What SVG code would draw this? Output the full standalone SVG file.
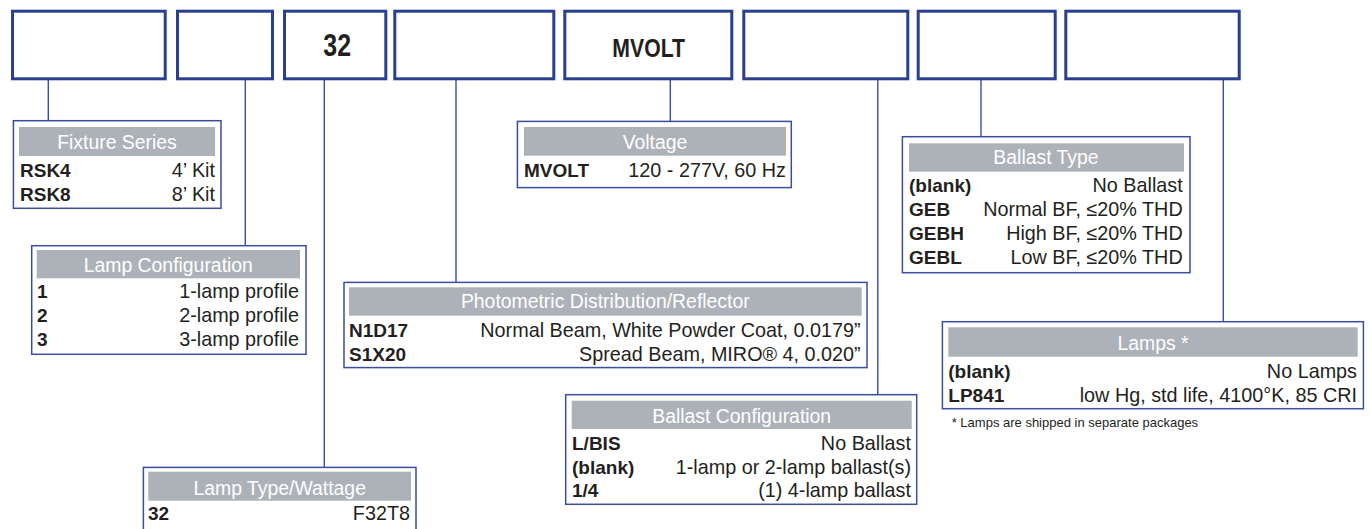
<svg xmlns="http://www.w3.org/2000/svg" width="1371" height="529" viewBox="0 0 1371 529">
<style>
.top{fill:#fff;stroke:#2a3f8f;stroke-width:3}
.box{fill:#fff;stroke:#3a4d9e;stroke-width:1.5}
.band{fill:#adb2b8}
.hd{font-family:"Liberation Sans",Arial,sans-serif;font-size:19.4px;fill:#fff;text-anchor:middle}
.b{font-family:"Liberation Sans",Arial,sans-serif;font-size:19px;font-weight:bold;fill:#231f20}
.r{font-family:"Liberation Sans",Arial,sans-serif;font-size:19.8px;fill:#231f20;text-anchor:end}
.big{font-family:"Liberation Sans",Arial,sans-serif;font-weight:bold;fill:#231f20;text-anchor:middle}
.conn line{stroke:#3a4d9e;stroke-width:1.4}
.note{font-family:"Liberation Sans",Arial,sans-serif;font-size:13px;fill:#231f20}
</style>
<rect width="1371" height="529" fill="#fff"/>
<g class="conn" id="connectors">
<line x1="48.3" y1="80" x2="48.3" y2="120.7"/>
<line x1="245.3" y1="80" x2="245.3" y2="245.7"/>
<line x1="324.3" y1="80" x2="324.3" y2="467.4"/>
<line x1="456" y1="80" x2="456" y2="282.4"/>
<line x1="670.3" y1="80" x2="670.3" y2="121.4"/>
<line x1="877.8" y1="80" x2="877.8" y2="394.7"/>
<line x1="981" y1="80" x2="981" y2="136.7"/>
<line x1="1223.3" y1="80" x2="1223.3" y2="321.7"/>
</g>
<g id="code1"><rect class="top" x="12.5" y="11.2" width="152.7" height="67.6"/></g>
<g id="code2"><rect class="top" x="177.5" y="11.2" width="95" height="67.6"/></g>
<g id="code3"><rect class="top" x="284.5" y="11.2" width="101.3" height="67.6"/>
<text class="big" x="337.2" y="56" font-size="31" textLength="27.7" lengthAdjust="spacingAndGlyphs">32</text></g>
<g id="code4"><rect class="top" x="394.8" y="11.2" width="159" height="67.6"/></g>
<g id="code5"><rect class="top" x="564.8" y="11.2" width="167" height="67.6"/>
<text class="big" x="648.7" y="56.7" font-size="25.5" textLength="72.7" lengthAdjust="spacingAndGlyphs">MVOLT</text></g>
<g id="code6"><rect class="top" x="743.8" y="11.2" width="164" height="67.6"/></g>
<g id="code7"><rect class="top" x="918.2" y="11.2" width="137" height="67.6"/></g>
<g id="code8"><rect class="top" x="1065.8" y="11.2" width="173.4" height="67.6"/></g>

<g id="fixture-series">
<rect class="box" x="13.4" y="120.7" width="207.6" height="87.6"/>
<rect class="band" x="19" y="127" width="196" height="29"/>
<text class="hd" x="117" y="149">Fixture Series</text>
<text class="b" x="20" y="176.7">RSK4</text><text class="r" x="215" y="176.7">4’ Kit</text>
<text class="b" x="20" y="200.7">RSK8</text><text class="r" x="215" y="200.7">8’ Kit</text>
</g>

<g id="lamp-configuration">
<rect class="box" x="31.7" y="245.7" width="274.3" height="108.6"/>
<rect class="band" x="36.7" y="250" width="263.3" height="28.3"/>
<text class="hd" x="168.3" y="272.3">Lamp Configuration</text>
<text class="b" x="37" y="298.3">1</text><text class="r" x="299" y="298.3">1-lamp profile</text>
<text class="b" x="37" y="322.3">2</text><text class="r" x="299" y="322.3">2-lamp profile</text>
<text class="b" x="37" y="346">3</text><text class="r" x="299" y="346">3-lamp profile</text>
</g>

<g id="lamp-type">
<rect class="box" x="143.4" y="467.4" width="272.6" height="70"/>
<rect class="band" x="148.3" y="471.7" width="262.7" height="29"/>
<text class="hd" x="279.7" y="495">Lamp Type/Wattage</text>
<text class="b" x="148" y="520">32</text><text class="r" x="410" y="520">F32T8</text>
</g>

<g id="photometric">
<rect class="box" x="344" y="282.4" width="523" height="85.2"/>
<rect class="band" x="349" y="287.3" width="512.7" height="28.4"/>
<text class="hd" x="605.3" y="308.3">Photometric Distribution/Reflector</text>
<text class="b" x="349" y="336.7">N1D17</text><text class="r" x="860.7" y="336.7">Normal Beam, White Powder Coat, 0.0179”</text>
<text class="b" x="349" y="360.7">S1X20</text><text class="r" x="860.7" y="360.7">Spread Beam, MIRO® 4, 0.020”</text>
</g>

<g id="voltage">
<rect class="box" x="517.4" y="121.4" width="273.9" height="66.2"/>
<rect class="band" x="524" y="127" width="262" height="28.7"/>
<text class="hd" x="655" y="149.3">Voltage</text>
<text class="b" x="524" y="176.7">MVOLT</text><text class="r" x="786" y="176.7">120 - 277V, 60 Hz</text>
</g>

<g id="ballast-configuration">
<rect class="box" x="565.7" y="394.7" width="351" height="109.6"/>
<rect class="band" x="571.7" y="400.7" width="340" height="28.3"/>
<text class="hd" x="741.7" y="422.7">Ballast Configuration</text>
<text class="b" x="572" y="450">L/BIS</text><text class="r" x="911" y="450">No Ballast</text>
<text class="b" x="572" y="474">(blank)</text><text class="r" x="911" y="474">1-lamp or 2-lamp ballast(s)</text>
<text class="b" x="572" y="497.3">1/4</text><text class="r" x="911" y="497.3">(1) 4-lamp ballast</text>
</g>

<g id="ballast-type">
<rect class="box" x="902.4" y="136.7" width="287.6" height="136"/>
<rect class="band" x="909" y="143.3" width="275" height="28.4"/>
<text class="hd" x="1046" y="164.3">Ballast Type</text>
<text class="b" x="909" y="192.3">(blank)</text><text class="r" x="1182.7" y="192.3">No Ballast</text>
<text class="b" x="909" y="216.3">GEB</text><text class="r" x="1182.7" y="216.3">Normal BF, ≤20% THD</text>
<text class="b" x="909" y="240">GEBH</text><text class="r" x="1182.7" y="240">High BF, ≤20% THD</text>
<text class="b" x="909" y="264">GEBL</text><text class="r" x="1182.7" y="264">Low BF, ≤20% THD</text>
</g>

<g id="lamps">
<rect class="box" x="942.4" y="321.7" width="421" height="87"/>
<rect class="band" x="948.3" y="327.3" width="409.4" height="29.4"/>
<text class="hd" x="1153" y="350">Lamps *</text>
<text class="b" x="948.3" y="378.3">(blank)</text><text class="r" x="1357" y="378.3">No Lamps</text>
<text class="b" x="948.3" y="401.7">LP841</text><text class="r" x="1357" y="401.7">low Hg, std life, 4100°K, 85 CRI</text>
<text class="note" x="951.7" y="426.7">* Lamps are shipped in separate packages</text>
</g>
</svg>
